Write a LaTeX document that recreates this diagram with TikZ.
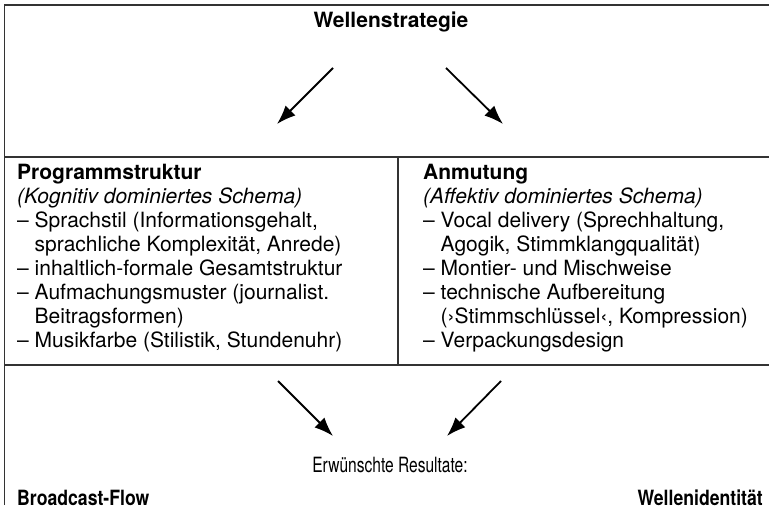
\documentclass[tikz,border=0pt]{standalone}
\usepackage{fontspec}
\setmainfont{TeX Gyre Heros}
\newfontfamily\schmal[FakeStretch=0.84]{TeX Gyre Heros}
\newfontfamily\schmaler[FakeStretch=0.74]{TeX Gyre Heros}
\usetikzlibrary{positioning,arrows.meta}

\newcommand\weiter{\phantom{–}\ }

\begin{document}
\begin{tikzpicture}[x=1pt, y=-1pt,
  rahmen/.style={line width=1.8pt, draw=black!80},
  pfeil/.style={-{Latex[length=19pt,width=14pt]}, line width=1.8pt},
  txt/.style={inner sep=0pt, font=\fontsize{21}{24}\selectfont},
  schmaltxt/.style={inner sep=0pt, font=\schmal\fontsize{21}{24}\selectfont},
  spalte/.style={txt, anchor=north west, align=left}]

  %% ==== Rahmen ====
  \draw[rahmen] (4.5,505) -- (4.5,5) -- (769,5);
  \draw[rahmen] (4.5,157) -- (769,157);
  \draw[rahmen] (4.5,365) -- (769,365);
  \draw[rahmen] (397.7,157) -- (397.7,365);

  %% ==== Texte ====
  \node[txt, anchor=base] (strategie) at (391,27.3) {\textbf{Wellenstrategie}};

  \node[spalte] (programm) at (17,164) {%
    \textbf{Programmstruktur}\\
    \textit{(Kognitiv dominiertes Schema)}\\
    – Sprachstil (Informationsgehalt,\\
    \weiter sprachliche Komplexität, Anrede)\\
    – inhaltlich-formale Gesamtstruktur\\
    – Aufmachungsmuster (journalist.\\
    \weiter Beitragsformen)\\
    – Musikfarbe (Stilistik, Stundenuhr)};

  \node[spalte] (anmutung) at (423,164) {%
    \textbf{Anmutung}\\
    \textit{(Affektiv dominiertes Schema)}\\
    – Vocal delivery (Sprechhaltung,\\
    \weiter Agogik, Stimmklangqualität)\\
    – Montier- und Mischweise\\
    – technische Aufbereitung\\
    \weiter (›Stimmschlüssel‹, Kompression)\\
    – Verpackungsdesign};

  \node[schmaltxt, font=\schmaler\fontsize{21}{24}\selectfont, anchor=base] (resultate) at (390,472) {Erwünschte Resultate:};
  \node[schmaltxt, anchor=base west] (flow) at (17,505) {\bfseries Broadcast-Flow};
  \node[schmaltxt, anchor=base east] (identitaet) at (763,505) {\bfseries Wellenidentität};

  %% ==== Pfeile ====
  \coordinate (o1) at (333,68);   \coordinate (o1e) at (277,124);
  \coordinate (o2) at (446,68);   \coordinate (o2e) at (503,124);
  \coordinate (u1) at (278,381);  \coordinate (u1e) at (333,436);
  \coordinate (u2) at (501,381);  \coordinate (u2e) at (447,436);
  \draw[pfeil] (o1) -- (o1e);
  \draw[pfeil] (o2) -- (o2e);
  \draw[pfeil] (u1) -- (u1e);
  \draw[pfeil] (u2) -- (u2e);

  \pgfresetboundingbox
  \path[use as bounding box] (0,0) rectangle (769,513);
\end{tikzpicture}
\end{document}
